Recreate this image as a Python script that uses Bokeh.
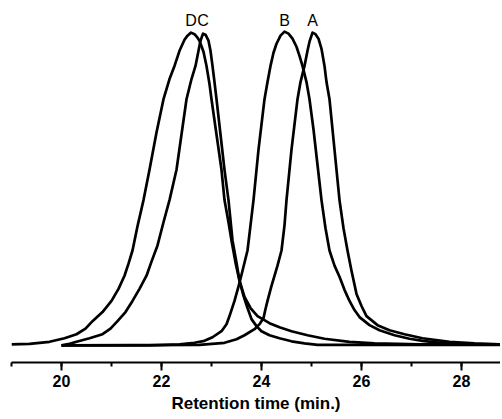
from bokeh.plotting import figure
from bokeh.models import Range1d, SingleIntervalTicker
from bokeh.embed import file_html
from bokeh.resources import INLINE
from bokeh.core.properties import value

# Retention time (min) and normalized detector response for each trace
t_D = [19.0, 19.36, 19.76, 20.06, 20.30, 20.48, 20.62, 20.82, 21.00, 21.14, 21.26, 21.34, 21.42, 21.52,
       21.64, 21.76, 21.90, 22.04, 22.16, 22.26, 22.36, 22.46, 22.52, 22.59, 22.66, 22.72, 22.76, 22.84,
       22.90, 22.96, 23.00, 23.10, 23.20, 23.26, 23.34, 23.40, 23.48, 23.56, 23.66, 23.78, 23.92, 24.16,
       24.36, 24.60, 24.92, 25.26, 25.76, 26.26, 27.16, 28.8]
v_D = [0.0, 0.16, 0.81, 1.94, 3.24, 5.02, 7.44, 10.36, 13.92, 17.80, 22.01, 25.89, 30.10, 37.86,
       46.28, 55.99, 67.96, 78.64, 85.11, 89.32, 94.17, 97.73, 99.03, 100.0, 99.51, 98.38, 97.41, 93.85,
       89.32, 83.50, 78.64, 67.31, 55.99, 46.28, 39.16, 33.33, 26.21, 20.39, 15.21, 11.65, 9.06, 6.80,
       5.50, 4.21, 2.91, 1.78, 0.81, 0.32, 0.0, 0.0]

t_C = [20.0, 20.16, 20.30, 20.56, 20.82, 20.98, 21.12, 21.28, 21.42, 21.56, 21.70, 21.80, 21.92, 22.04,
       22.16, 22.30, 22.40, 22.50, 22.60, 22.68, 22.74, 22.78, 22.83, 22.88, 22.94, 22.98, 23.02, 23.06,
       23.10, 23.18, 23.26, 23.34, 23.38, 23.42, 23.50, 23.56, 23.64, 23.72, 23.80, 23.90, 24.00, 24.16,
       24.36, 24.60, 24.86, 25.12, 28.8]
v_C = [-0.32, 0.16, 0.81, 1.94, 3.24, 5.02, 7.44, 10.36, 13.92, 17.80, 22.01, 26.54, 31.72, 39.16,
       46.28, 55.99, 67.31, 78.64, 85.11, 89.32, 94.17, 97.41, 99.68, 99.35, 97.41, 94.17, 89.32, 84.14,
       78.64, 67.31, 55.99, 46.28, 39.81, 33.33, 26.21, 20.39, 15.53, 11.65, 8.09, 5.83, 4.21, 2.91,
       1.94, 0.97, 0.32, -0.16, -0.16]

t_B = [20.0, 21.76, 22.36, 22.66, 22.86, 23.02, 23.20, 23.30, 23.36, 23.46, 23.56, 23.62, 23.72, 23.78,
       23.84, 23.94, 24.00, 24.06, 24.12, 24.18, 24.24, 24.30, 24.38, 24.46, 24.54, 24.62, 24.70, 24.76,
       24.82, 24.90, 24.96, 25.04, 25.12, 25.20, 25.28, 25.36, 25.46, 25.56, 25.66, 25.76, 25.86, 25.96,
       26.16, 26.36, 26.66, 26.96, 27.22, 27.76, 28.36, 28.8]
v_B = [-0.32, -0.32, 0.0, 0.49, 1.13, 2.27, 4.21, 6.47, 9.06, 13.92, 19.74, 23.62, 30.10, 38.19,
       46.28, 62.46, 70.55, 78.64, 84.14, 89.32, 93.53, 96.44, 99.03, 100.32, 99.68, 98.06, 95.47, 92.56,
       89.32, 84.14, 78.64, 68.93, 57.61, 46.28, 37.22, 30.10, 25.24, 21.68, 17.48, 13.92, 11.00, 8.74,
       6.15, 4.53, 2.91, 1.78, 1.13, 0.16, 0.0, 0.0]

t_A = [20.0, 22.76, 23.26, 23.50, 23.66, 23.86, 23.96, 24.04, 24.08, 24.12, 24.20, 24.32, 24.40, 24.46,
       24.50, 24.60, 24.66, 24.72, 24.78, 24.86, 24.92, 24.96, 25.02, 25.08, 25.14, 25.20, 25.26, 25.30,
       25.36, 25.46, 25.56, 25.64, 25.72, 25.80, 25.90, 26.00, 26.10, 26.32, 26.56, 26.86, 27.22, 27.76,
       28.26, 28.8]
v_A = [-0.32, -0.16, 0.49, 1.62, 2.91, 4.85, 6.47, 8.41, 11.33, 13.92, 18.77, 25.24, 30.10, 38.19,
       46.28, 62.46, 70.55, 78.64, 84.14, 89.32, 94.17, 97.09, 100.0, 99.51, 98.06, 94.82, 89.32, 84.14,
       78.64, 62.46, 46.28, 37.22, 30.10, 23.62, 16.18, 12.30, 9.06, 6.15, 4.53, 3.24, 1.94, 0.81,
       0.32, 0.0]

labels = ["D", "C", "B", "A"]
series = [(t_D, v_D), (t_C, v_C), (t_B, v_B), (t_A, v_A)]

p = figure(width=500, height=415, output_backend="svg", toolbar_location=None,
           x_range=Range1d(19.0, 28.78), y_range=Range1d(-5.83, 107.1),
           min_border_left=11, min_border_right=0, min_border_top=10, min_border_bottom=0)
p.outline_line_color = None
p.xgrid.visible = False
p.ygrid.visible = False
p.yaxis.visible = False
p.background_fill_color = "white"
p.border_fill_color = "white"

for (t, v) in series:
    p.line(t, v, line_color="black", line_width=2.7, line_join="round")

# peak labels placed above each trace's maximum
for name, (t, v) in zip(labels, series):
    i = v.index(max(v))
    p.text(x=[t[i]], y=[103.9], text=[name], text_align="center", text_baseline="middle",
           text_font=value("Liberation Sans"), text_font_size="16px", text_color="black")

ax = p.xaxis[0]
ax.ticker = SingleIntervalTicker(interval=2, num_minor_ticks=2)
ax.axis_label = "Retention time (min.)"
ax.axis_label_text_font = "Liberation Sans"
ax.axis_label_text_font_style = "bold"
ax.axis_label_text_font_size = "17px"
ax.axis_label_text_color = "black"
ax.axis_label_standoff = 4
ax.major_label_text_font = "Liberation Sans"
ax.major_label_text_font_style = "bold"
ax.major_label_text_font_size = "16px"
ax.major_label_text_color = "black"
ax.major_label_standoff = 4
ax.axis_line_width = 2
ax.axis_line_color = "black"
ax.major_tick_line_width = 2
ax.minor_tick_line_width = 2
ax.major_tick_out = 8
ax.major_tick_in = 0
ax.minor_tick_out = 4
ax.minor_tick_in = 0

open("out.html", "w").write(file_html(p, INLINE))
